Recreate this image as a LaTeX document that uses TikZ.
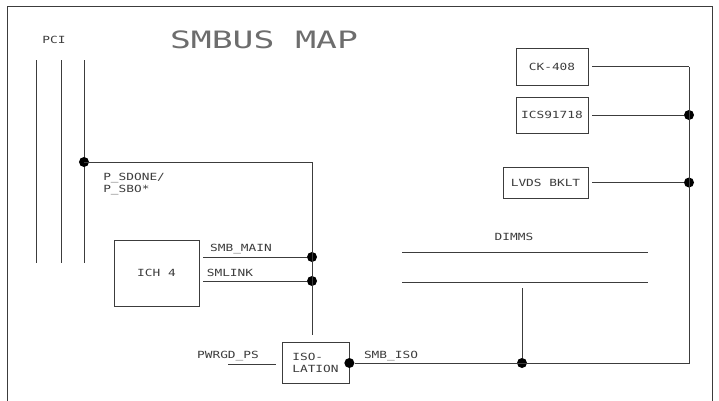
\documentclass[tikz,border=0pt]{standalone}
\usepackage{fontspec}
\setmonofont[FakeStretch=1.3]{DejaVu Sans Mono}
\newfontfamily\titlefont[FakeStretch=1.45]{DejaVu Sans Mono}
\usetikzlibrary{positioning,calc}
\definecolor{inkgray}{RGB}{60,60,60}

\begin{document}
\begin{tikzpicture}[x=0.025cm,y=-0.025cm,
  wire/.style={draw=inkgray,line width=0.5pt},
  chip/.style={rectangle,draw=inkgray,line width=0.5pt,font=\ttfamily\fontsize{7}{8.5}\selectfont,
               text=inkgray,inner sep=0pt},
  lbl/.style={font=\ttfamily\fontsize{7}{8.5}\selectfont,text=inkgray,inner sep=0pt},
  dot/.style={circle,fill=black,inner sep=0pt,minimum size=0.25cm}]
\useasboundingbox (0,0) rectangle (719,401);
% frame
\draw[wire] (7,401) -- (7,6) -- (712,6) -- (712,401);
\node[lbl] (pci) at (54,40) {PCI};
\node[lbl,text=inkgray!75,font=\titlefont\fontsize{17}{20}\selectfont] (title) at (264,40) {SMBUS MAP};
% pci bus
\foreach \x in {36,61,84}
  \draw[wire] (\x,60) -- (\x,263);
% blocks
\node[chip,minimum width=2.125cm,minimum height=1.65cm]  (ich)  at (156.5,273) {ICH 4};
\node[chip,minimum width=1.675cm,minimum height=1.025cm,align=left] (iso) at (315.5,363) {ISO-\\LATION};
\node[chip,minimum width=1.8cm,minimum height=0.925cm]   (ck)   at (552,66.5)  {CK-408};
\node[chip,minimum width=1.8cm,minimum height=0.9cm]     (ics)  at (552,115)   {ICS91718};
\node[chip,minimum width=2.125cm,minimum height=0.775cm] (lvds) at (545.5,182.5) {LVDS BKLT};
% junctions
\coordinate (isotop) at (312,335);
\coordinate (rb) at (iso.east -| 689,0);
\coordinate (dimm) at (522,288);
\node[dot] (j1) at (84,162) {};
\node[dot] (j2) at (312,257) {};
\node[dot] (j3) at (312,281) {};
\node[dot] (j4) at (iso.east) {};
\node[dot] (j5) at (dimm |- iso.east) {};
\node[dot] (j6) at (ics.east -| rb) {};
\node[dot] (j7) at (lvds.east -| rb) {};
% smbus wiring
\draw[wire] (j1.center) -| (isotop);
\draw[wire,shorten <=1mm] (ich.east |- j2) -- (j2);
\draw[wire,shorten <=1mm] (ich.east |- j3) -- (j3);
\draw[wire] (j4) -- (rb) -- (ck.east -| rb);
\draw[wire,shorten <=1mm] (ck) -- (ck.east -| rb);
\draw[wire,shorten <=1mm] (ics) -- (j6);
\draw[wire,shorten <=1mm] (lvds) -- (j7);
\coordinate (pwr) at (228,364);
\draw[wire,shorten >=1.5mm] (pwr) -- (iso.west |- pwr);
% dimms
\draw[wire] (402,252) -- (648,252);
\draw[wire] (402,282) -- (648,282);
\draw[wire] (dimm) -- (j5);
% labels
\node[lbl,align=left,anchor=west] (sdone) at (103,184) {P\_SDONE/\\P\_SBO*};
\node[lbl] (smbmain) at (241,249) {SMB\_MAIN};
\node[lbl] (smlink) at (230,273) {SMLINK};
\node[lbl] (pwrgd) at (228,356) {PWRGD\_PS};
\node[lbl] (smbiso) at (391,356) {SMB\_ISO};
\node[lbl] (dimms) at (514,237) {DIMMS};
\end{tikzpicture}
\end{document}
